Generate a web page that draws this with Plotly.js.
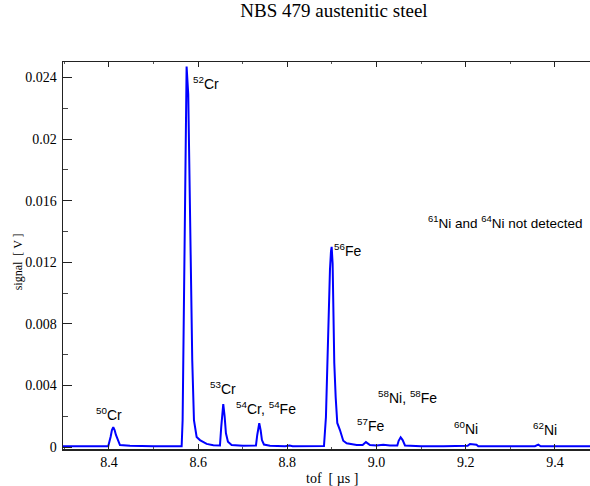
<!DOCTYPE html>
<html>
<head>
<meta charset="utf-8">
<script src="https://cdn.plot.ly/plotly-3.0.1.min.js"></script>
<style>html,body{margin:0;padding:0;background:#fff;overflow:hidden;}</style>
</head>
<body>
<div id="chart" style="width:590px;height:486px;"></div>
<script>
// time of flight [µs]
var tof = [
  8.297, 8.330, 8.370, 8.3984, 8.4038, 8.4067, 8.4097, 8.4127, 8.4157, 8.4209, 8.4247, 8.4471, 8.470,
  8.500, 8.540, 8.5630, 8.5652, 8.5682, 8.5704, 8.5726, 8.5741, 8.5778, 8.5800, 8.5831, 8.5868, 8.5906,
  8.5966, 8.604, 8.6115, 8.619, 8.634, 8.6489, 8.6518, 8.6541, 8.6563, 8.6594, 8.6623, 8.6668, 8.675,
  8.700, 8.7296, 8.7325, 8.7348, 8.7370, 8.7401, 8.7430, 8.7475, 8.761, 8.795, 8.805, 8.812, 8.850,
  8.8821, 8.8865, 8.8895, 8.8926, 8.8955, 8.8978, 8.8993, 8.9015, 8.9030, 8.9052, 8.9083, 8.9119, 8.9179,
  8.9253, 8.933, 8.9554, 8.9688, 8.9762, 8.9852, 9.000, 9.015, 9.030, 9.0465, 9.0495, 9.0540, 9.0585,
  9.0637, 9.080, 9.100, 9.150, 9.2042, 9.2094, 9.2168, 9.2240, 9.2280, 9.300, 9.355, 9.3626, 9.368,
  9.420, 9.4785
];
// signal [V]
var signal = [
  0.00005, 0.00005, 0.00005, 0.00005, 0.00067, 0.00110, 0.00128, 0.00110, 0.00078, 0.00034, 0.00013, 0.00008, 0.00005,
  0.00005, 0.00005, 0.00005, 0.00175, 0.00910, 0.01650, 0.02300, 0.02470, 0.02290, 0.01870, 0.01210, 0.00560, 0.00175,
  0.00065, 0.00045, 0.00030, 0.00020, 0.00012, 0.00010, 0.00132, 0.00240, 0.00279, 0.00197, 0.00089, 0.00034, 0.00013,
  0.00008, 0.00010, 0.00078, 0.00130, 0.00154, 0.00110, 0.00045, 0.00016, 0.00008, 0.00005, 0.00010, 0.00005, 0.00005,
  0.00006, 0.00195, 0.00545, 0.00870, 0.01150, 0.01270, 0.01300, 0.01190, 0.00870, 0.00545, 0.00324, 0.00156, 0.00110,
  0.00041, 0.00024, 0.00013, 0.00013, 0.00032, 0.00013, 0.00010, 0.00015, 0.00010, 0.00010, 0.00040, 0.00063, 0.00045,
  0.00010, 0.00006, 0.00005, 0.00005, 0.00008, 0.00020, 0.00019, 0.00015, 0.00005, 0.00005, 0.00005, 0.00015, 0.00005,
  0.00005, 0.00005
];

var xTickVals = [8.4, 8.6, 8.8, 9.0, 9.2, 9.4];
var xTickText = ["8.4", "8.6", "8.8", "9.0", "9.2", "9.4"];
var yTickVals = [0, 0.004, 0.008, 0.012, 0.016, 0.02, 0.024];
var yTickText = ["0", "0.004", "0.008", "0.012", "0.016", "0.02", "0.024"];

var labelText = ["<sup>50</sup>Cr", "<sup>52</sup>Cr", "<sup>53</sup>Cr", "<sup>54</sup>Cr, <sup>54</sup>Fe",
                 "<sup>56</sup>Fe", "<sup>57</sup>Fe", "<sup>58</sup>Ni, <sup>58</sup>Fe", "<sup>60</sup>Ni",
                 "<sup>62</sup>Ni", "<sup>61</sup>Ni and <sup>64</sup>Ni not detected"];
var labelX = [8.3686, 8.5861, 8.6242, 8.6825, 8.9022, 8.9538, 9.0009, 9.1713, 9.3484, 9.113];
var labelY = [0.00217, 0.02361, 0.00383, 0.00256, 0.01281, 0.00143, 0.00324, 0.00123, 0.00120, 0.01461];
var labelSize = [14, 14, 14, 14, 14, 14, 14, 14, 14, 13.5];

var serif = 'Liberation Serif, Times New Roman, serif';

var annotations = labelText.map(function (t, i) {
  return {
    x: labelX[i], y: labelY[i], xref: 'x', yref: 'y', text: t, showarrow: false,
    xanchor: 'left', yanchor: 'middle', borderpad: 0,
    font: {family: 'Liberation Sans, Arial, sans-serif', size: labelSize[i], color: '#000'}
  };
});
// axis titles
annotations.push({
  x: -0.0854, y: 0.485, xref: 'paper', yref: 'paper', text: 'signal  [ V ]', textangle: -90,
  showarrow: false, xanchor: 'center', yanchor: 'middle',
  font: {family: serif, size: 12, color: '#000'}
});
annotations.push({
  x: 0.5104, y: -0.0774, xref: 'paper', yref: 'paper', text: 'tof  [ µs ]',
  showarrow: false, xanchor: 'center', yanchor: 'middle',
  font: {family: serif, size: 14, color: '#000'}
});

var trace = {
  x: tof, y: signal, type: 'scatter', mode: 'lines',
  line: {color: '#0000ff', width: 2}, hoverinfo: 'skip'
};

var layout = {
  width: 590, height: 486,
  margin: {l: 63, r: 0, t: 62, b: 37},
  paper_bgcolor: '#fff', plot_bgcolor: '#fff',
  showlegend: false,
  title: {text: 'NBS 479 austenitic steel', font: {family: serif, size: 19, color: '#000'},
          x: 0.566, xref: 'container', xanchor: 'center', y: 0.978, yref: 'container', yanchor: 'middle'},
  xaxis: {
    range: [8.297, 9.4785], showgrid: false, zeroline: false,
    showline: true, linecolor: '#222', linewidth: 1.5, mirror: 'ticks',
    ticks: 'inside', ticklen: 5, tickwidth: 1, tickcolor: '#222',
    tickvals: xTickVals, ticktext: xTickText,
    tickfont: {family: serif, size: 14, color: '#000'},
    minor: {dtick: 0.1, tick0: 8.3, ticks: 'inside', ticklen: 2, tickcolor: '#555', tickwidth: 1},
    automargin: false
  },
  yaxis: {
    range: [-0.00013, 0.025], showgrid: false, zeroline: false,
    showline: true, linecolor: '#222', linewidth: 1.5, mirror: false,
    ticks: 'inside', ticklen: 9, tickwidth: 1, tickcolor: '#222',
    tickvals: yTickVals, ticktext: yTickText,
    tickfont: {family: serif, size: 14, color: '#000'},
    ticklabelstandoff: 2,
    minor: {dtick: 0.002, tick0: 0, ticks: 'inside', ticklen: 5, tickcolor: '#444', tickwidth: 1},
    automargin: false
  },
  annotations: annotations
};

Plotly.newPlot('chart', [trace], layout, {displayModeBar: false, staticPlot: true});
</script>
</body>
</html>
